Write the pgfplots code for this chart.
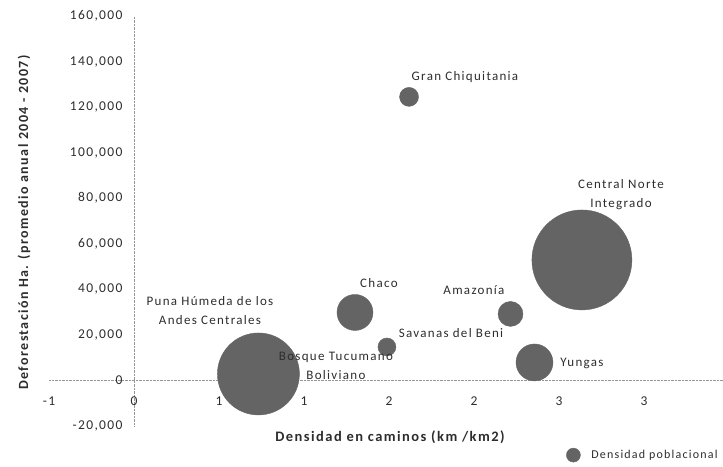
\documentclass[border=0pt]{standalone}
\usepackage{pgfplots}
\pgfplotsset{compat=1.18}
\usepackage{fontspec}
\setmainfont{Carlito}[LetterSpace=10]
\definecolor{bub}{RGB}{100,100,100}
\definecolor{txt}{RGB}{45,45,45}
\definecolor{axl}{RGB}{150,150,150}
\newcommand{\lab}{\fontsize{13}{19}\selectfont}
\begin{document}
\begin{tikzpicture}
\useasboundingbox (0,0) rectangle (723pt,466pt);
\pgfplotstableread{
x y r
0.700 3000 25
0.732 2850 41
1.300 29850 18
1.488 14700 9
1.618 124500 9.5
2.215 29200 12.5
2.356 7900 18.5
2.635 52900 50
}\bubbles
\begin{axis}[
  at={(49pt,40pt)}, anchor=south west,
  scale only axis, width=674pt, height=410pt,
  xmin=-0.5, xmax=3.465, ymin=-20000, ymax=160000,
  axis lines=middle,
  axis line style={draw=axl, densely dotted, thin, -},
  clip=false,
  scaled y ticks=false, scaled x ticks=false,
  hide obscured x ticks=false, hide obscured y ticks=false,
  major tick length=0pt,
  xtick={-0.5,0,0.5,1,1.5,2,2.5,3},
  xticklabels={-1,0,1,1,2,2,3,3},
  ytick={-20000,0,20000,40000,60000,80000,100000,120000,140000,160000},
  yticklabels={{-20,000},{0},{20,000},{40,000},{60,000},{80,000},{100,000},{120,000},{140,000},{160,000}},
  xticklabel style={font=\fontsize{13.5}{15}\selectfont, text=txt, yshift=-13pt},
  yticklabel style={font=\fontsize{13.5}{15}\selectfont, text=txt, xshift=-8pt},
  legend style={at={(rel axis cs:0.7626,-0.071)}, anchor=west, draw=none, fill=none, font=\fontsize{12}{14}\selectfont, text=txt},
]
\addplot[scatter, only marks, mark=*,
  scatter/use mapped color={draw=bub, fill=bub},
  visualization depends on={\thisrow{r} \as \rad},
  scatter/@pre marker code/.append style={/tikz/mark size=\rad},
  forget plot] table[x=x, y=y, meta=r]{\bubbles};
\addlegendimage{legend image code/.code={\fill[bub] (7pt,0pt) circle (7pt); \path[draw=none, fill=none] (0pt,0pt) -- (23pt,0pt);}}
\addlegendentry{Densidad poblacional}

\coordinate (L1) at (axis cs:1.947,133240);
\coordinate (L2) at (axis cs:2.865,81450);
\coordinate (L3) at (axis cs:2.0,39730);
\coordinate (L4) at (axis cs:1.441,42800);
\coordinate (L5) at (axis cs:1.865,20850);
\coordinate (L6) at (axis cs:2.635,7680);
\coordinate (L7) at (axis cs:0.447,30500);
\coordinate (L8) at (axis cs:1.188,6370);

\node[rotate=90, font=\bfseries\fontsize{14}{16}\selectfont, text=txt] at (rel axis cs:-0.037,0.496) {Deforestación Ha. (promedio anual 2004 - 2007)};
\node[font=\bfseries\fontsize{14.5}{16}\selectfont, text=txt] at (rel axis cs:0.506,-0.027) {Densidad en caminos (km /km2)};
\end{axis}
\node[font=\lab, text=txt] at (L1) {Gran Chiquitania};
\node[font=\lab, text=txt, align=center] at (L2) {Central Norte\\Integrado};
\node[font=\lab, text=txt] at (L3) {Amazonía};
\node[font=\lab, text=txt] at (L4) {Chaco};
\node[font=\lab, text=txt] at (L5) {Savanas del Beni};
\node[font=\lab, text=txt] at (L6) {Yungas};
\node[font=\lab, text=txt, align=center] at (L7) {Puna Húmeda de los\\Andes Centrales};
\node[font=\lab, text=txt, align=center] at (L8) {Bosque Tucumano\\Boliviano};
\end{tikzpicture}
\end{document}
